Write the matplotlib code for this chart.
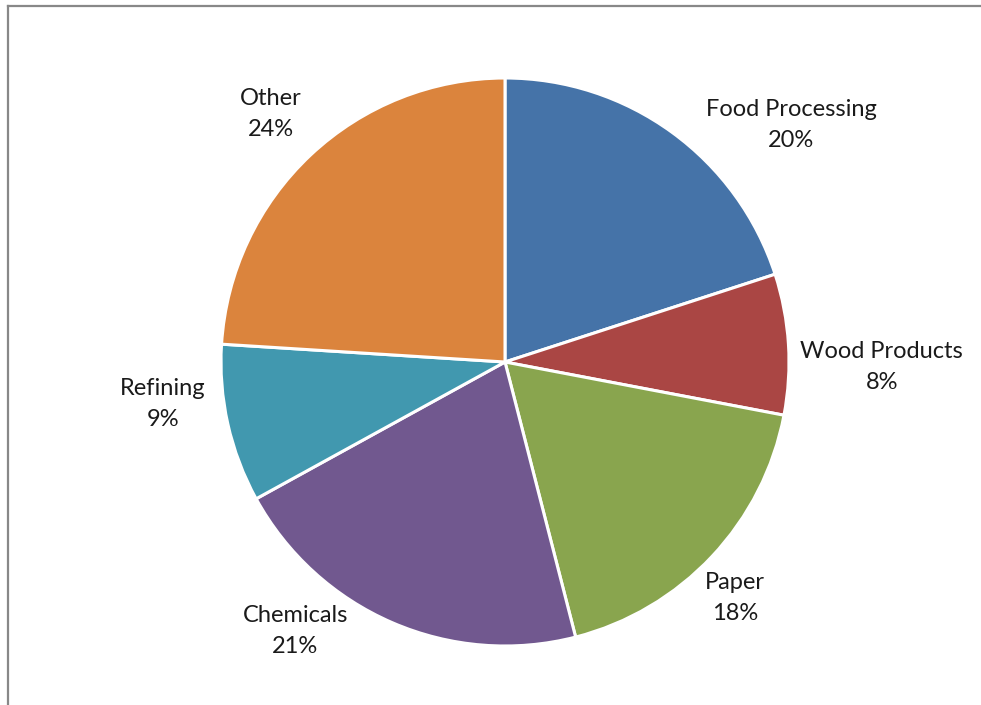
import matplotlib.pyplot as plt
from matplotlib.lines import Line2D

# industrial energy use by sector
sectors = ['Food Processing', 'Wood Products', 'Paper', 'Chemicals', 'Refining', 'Other']
shares = [20, 8, 18, 21, 9, 24]
colors = ['#4573A8', '#AA4644', '#89A54E', '#71588F', '#4198AF', '#DB843D']

# label anchor points, in units of the pie radius
label_pos = [(1.007, 0.835), (1.327, -0.018), (0.810, -0.831),
             (-0.739, -0.947), (-1.204, -0.148), (-0.824, 0.873)]

plt.rcParams['font.family'] = ['Lato', 'DejaVu Sans']

W, H = 981, 705
cx, cy, R = 505, 362, 284

fig = plt.figure(figsize=(W / 100, H / 100), dpi=100)
ax = fig.add_axes([0, 0, 1, 1])

ax.pie(shares, colors=colors, startangle=90, counterclock=False,
       wedgeprops=dict(edgecolor='white', linewidth=2.2))

for name, val, (lx, ly) in zip(sectors, shares, label_pos):
    ax.text(lx, ly, f'{name}\n{val}%', ha='center', va='center',
            fontsize=17, color='#1a1a1a', linespacing=1.6)

ax.set_aspect('auto')
ax.set_xlim(-cx / R, (W - cx) / R)
ax.set_ylim(-(H - cy) / R, cy / R)
ax.axis('off')

# chart area frame (top and left edges only)
fig.add_artist(Line2D([8 / W, 1], [1 - 6 / H, 1 - 6 / H], transform=fig.transFigure,
                      color='#888888', linewidth=1.6))
fig.add_artist(Line2D([8 / W, 8 / W], [0, 1 - 6 / H], transform=fig.transFigure,
                      color='#888888', linewidth=1.6))

fig.savefig('out.png', dpi=100)
